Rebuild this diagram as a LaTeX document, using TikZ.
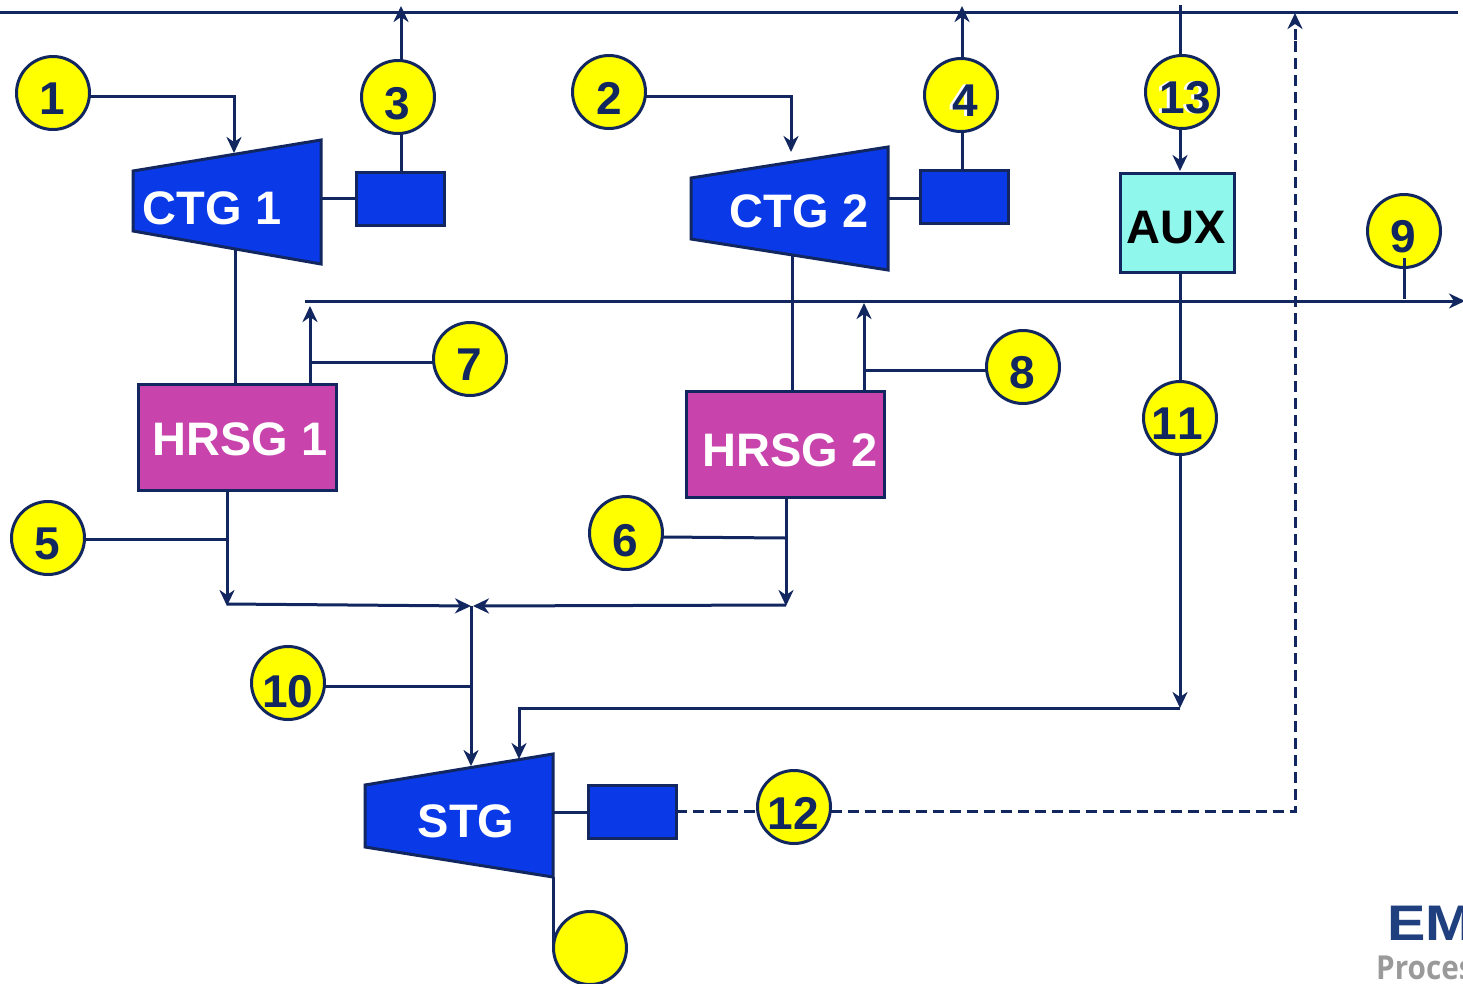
\documentclass[tikz,border=0pt]{standalone}
\usepackage{fontspec}
\setmainfont[Kerning=Off]{Liberation Sans}
\newfontfamily\logofont{Open Sans}
\usetikzlibrary{arrows.meta}
\definecolor{navy}{HTML}{12265F}
\definecolor{royal}{HTML}{0A3AE8}
\definecolor{magen}{HTML}{C844AC}
\definecolor{aqua}{HTML}{8FF7EC}
\definecolor{bubfill}{HTML}{FFFF00}
\definecolor{logoblue}{HTML}{1F3F7F}
\definecolor{logogray}{HTML}{9A9A9A}
\tikzset{
  pipe/.style={draw=navy,line width=3pt},
  arr/.style={pipe,-{Stealth[length=16pt,width=15pt,inset=5pt]}},
  dashpipe/.style={pipe,dash pattern=on 11pt off 6pt},
  bub/.style={circle,draw=navy,fill=bubfill,line width=3pt,minimum size=73pt,inner sep=0pt,outer sep=0pt},
  num/.style={text=navy,font=\fontsize{46}{46}\selectfont\bfseries,inner sep=0pt},
  shadownum/.style={text=white,font=\fontsize{46}{46}\selectfont\bfseries,inner sep=0pt},
  machine/.style={draw=navy,fill=royal,line width=3pt,line join=miter},
  gen/.style={rectangle,draw=navy,fill=royal,line width=3pt,inner sep=0pt,outer sep=0pt,minimum width=88pt,minimum height=53pt},
  hrsg/.style={rectangle,draw=navy,fill=magen,line width=3pt,inner sep=0pt,outer sep=0pt,minimum width=198pt,minimum height=106pt},
  auxbox/.style={rectangle,draw=navy,fill=aqua,line width=3pt,inner sep=0pt,outer sep=0pt,minimum width=114pt,minimum height=99pt},
  boxtxt/.style={text=white,font=\fontsize{47}{47}\selectfont\bfseries,inner sep=0pt},
}
\begin{document}
\begin{tikzpicture}[x=1pt,y=-1pt]
\useasboundingbox (0,0) rectangle (1463,983);
\clip (0,0) rectangle (1463,983);

% junction and free-end coordinates
\coordinate (hdrL) at (0,12);
\coordinate (hdrR) at (1458,12);
\coordinate (stmL) at (305,301);
\coordinate (stmR) at (1465,301);
\coordinate (a1) at (234,96);
\coordinate (a1e) at (234,153);
\coordinate (a2) at (791,96);
\coordinate (a2e) at (791,152);
\coordinate (top3) at (401,6);
\coordinate (top4) at (962,6);
\coordinate (top13) at (1180,5);
\coordinate (end13) at (1180,171);
\coordinate (s9a) at (1404,258);
\coordinate (s9b) at (1404,299);
\coordinate (j7) at (310,362);
\coordinate (e7) at (310,306);
\coordinate (j8) at (864,370);
\coordinate (e8) at (864,303);
\coordinate (j5) at (227,539);
\coordinate (e5) at (227,606);
\coordinate (j6) at (786,538);
\coordinate (e6) at (786,606);
\coordinate (mixL) at (471,606);
\coordinate (mixR) at (473,606);
\coordinate (j10) at (471,686);
\coordinate (e10) at (471,766);
\coordinate (e11) at (1180,708);
\coordinate (k11) at (519,708);
\coordinate (e12) at (519,759);
\coordinate (d12) at (1295,811);
\coordinate (u12) at (1295,13);

% machines
\draw[machine] (133,171) coordinate (c1a) -- (321,140) coordinate (c1b) -- (321,264) coordinate (c1c) -- (133,231) coordinate (c1d) -- cycle;
\draw[machine] (691,178) coordinate (c2a) -- (888,147) coordinate (c2b) -- (888,270) coordinate (c2c) -- (691,239) coordinate (c2d) -- cycle;
\draw[machine] (365,785) coordinate (s1a) -- (553,754) coordinate (s1b) -- (553,877) coordinate (s1c) -- (365,847) coordinate (s1d) -- cycle;
\node[boxtxt] (tc1) at (212,208) {CTG 1};
\node[boxtxt] (tc2) at (799,211) {CTG 2};
\node[boxtxt] (ts) at (466,821) {STG};

\node[gen] (g1) at (400,198.5) {};
\node[gen] (g2) at (964,196.5) {};
\node[gen] (g3) at (632,812) {};
\node[hrsg] (h1) at (237,437) {};
\node[hrsg] (h2) at (785,444) {};
\node[boxtxt] (th1) at (240,439) {HRSG 1};
\node[boxtxt] (th2) at (790,450) {HRSG 2};
\node[auxbox,label={[boxtxt,text=black,yshift=-5pt,xshift=-1pt]center:AUX}] (aux) at (1177,222.5) {};

% numbered circles
\node[bub,label={[num,xshift=-1pt,yshift=-6pt]center:1}] (n1) at (53,93) {};
\node[bub,label={[num,xshift=0pt,yshift=-6pt]center:2}] (n2) at (609,92) {};
\node[bub,label={[num,xshift=-1pt,yshift=-7pt]center:3}] (n3) at (398,97) {};
\node[bub,label={[shadownum,xshift=1pt,yshift=-6pt]center:4},label={[num,xshift=4pt,yshift=-6pt]center:4}] (n4) at (961,95) {};
\node[bub,label={[num,xshift=-1pt,yshift=-6pt]center:5}] (n5) at (48,538) {};
\node[bub,label={[num,xshift=-1pt,yshift=-8pt]center:6}] (n6) at (626,533) {};
\node[bub,label={[num,xshift=-1pt,yshift=-6pt]center:7}] (n7) at (470,359) {};
\node[bub,label={[num,xshift=-1pt,yshift=-6pt]center:8}] (n8) at (1023,367) {};
\node[bub,label={[num,xshift=-1pt,yshift=-6pt]center:9}] (n9) at (1404,231) {};
\node[bub,label={[num,xshift=0pt,yshift=-9pt]center:10}] (n10) at (288,683) {};
\node[bub,label={[num,xshift=-3pt,yshift=-6pt]center:11}] (n11) at (1180,418) {};
\node[bub,label={[num,xshift=-1pt,yshift=-6pt]center:12}] (n12) at (794,807) {};
\node[bub,label={[shadownum,xshift=0pt,yshift=-6pt]center:13},label={[num,xshift=3pt,yshift=-6pt]center:13}] (n13) at (1182,92) {};
\node[bub] (n14) at (590,948) {};

% headers
\draw[pipe] (hdrL) -- (hdrR);
\draw[arr] (stmL) -- (stmR);

% fuel to gas turbines
\draw[arr] (n1.east |- a1) -- (a1) -- (a1e);
\draw[arr] (n2.east |- a2) -- (a2) -- (a2e);

% generators to power header
\draw[pipe] (g1.north -| top3) -- (n3.south -| top3);
\draw[arr] (n3.north -| top3) -- (top3);
\draw[pipe] (g2.north -| top4) -- (n4.south -| top4);
\draw[arr] (n4.north -| top4) -- (top4);
\draw[pipe] (321,198) -- (g1.west |- 321,198);
\draw[pipe] (888,198) -- (g2.west |- 888,198);
\draw[pipe] (s1b |- g3) -- (g3.west);

% aux
\draw[pipe] (top13) -- (n13.north -| top13);
\draw[arr] (n13.south -| top13) -- (end13);
\draw[pipe] (aux.south -| top13) -- (n11.north -| top13);
\draw[arr] (n11.south -| top13) -- (e11);
\draw[arr] (e11) -- (k11) -- (e12);

% 9
\draw[pipe] (s9a) -- (s9b);

% turbine to HRSG
\draw[pipe] (235,250) -- (h1.north -| 235,250);
\draw[pipe] (792,255) -- (h2.north -| 792,255);

% HP steam
\draw[pipe] (n7.west |- j7) -- (j7);
\draw[arr] (h1.north -| j7) -- (e7);
\draw[pipe] (n8.west |- j8) -- (j8);
\draw[arr] (h2.north -| j8) -- (e8);

% LP / extraction
\draw[pipe] (n5.east |- j5) -- (j5);
\draw[arr] (h1.south -| j5) -- (e5);
\draw[pipe] (n6.east |- 665,537) -- (j6);
\draw[arr] (h2.south -| j6) -- (e6);
\draw[arr] (227,604) -- (mixL);
\draw[arr] (786,605) -- (mixR);
\draw[pipe] (n10.east |- j10) -- (j10);
\draw[arr] (mixL) -- (e10);

% STG
\draw[pipe] (s1c) -- (553,948);
\draw[dashpipe] (g3.east |- n12) ++(0,4) -- (n12.west |- d12);
\draw[dashpipe] (n12.east |- d12) -- (d12) -- (u12 |- 0,30);
\draw[arr,dash pattern=on 11pt off 6pt] (u12 |- 0,40) -- (u12);

% logo fragment
\node[anchor=base west,inner sep=0pt,text=logoblue,xscale=1.15,font=\fontsize{50}{50}\selectfont\bfseries] (logo1) at (1387,940) {EM};
\node[anchor=base west,inner sep=0pt,text=logogray,xscale=.9,font=\logofont\fontsize{33}{33}\selectfont\bfseries] (logo2) at (1376,979) {Proces};
\end{tikzpicture}
\end{document}
